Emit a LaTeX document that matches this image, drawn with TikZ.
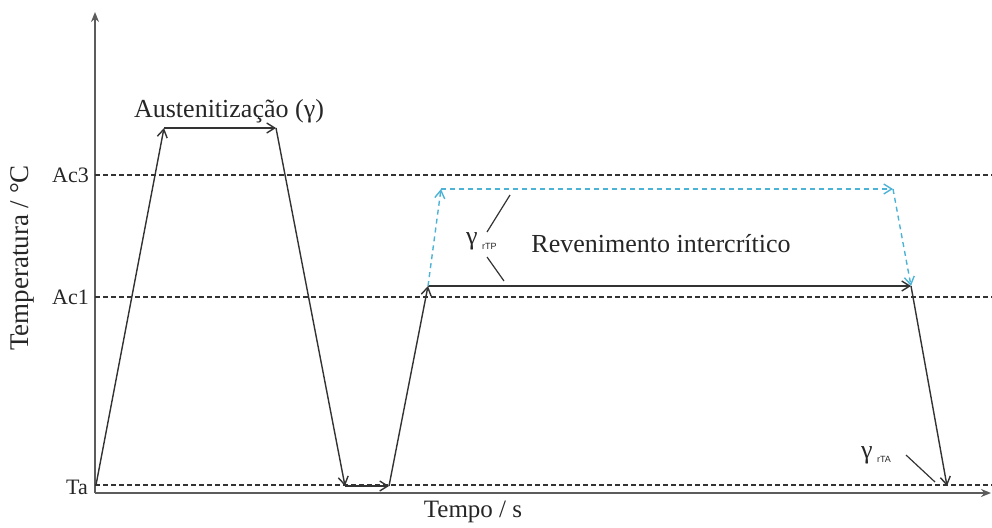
\documentclass[tikz,border=0pt]{standalone}
\usepackage{fontspec}
\setmainfont{Liberation Serif}
\newfontfamily\subsans{Liberation Sans}
\usetikzlibrary{arrows.meta}
\definecolor{linegray}{HTML}{333333}
\definecolor{temperblue}{HTML}{4DB3D6}
\begin{document}
\begin{tikzpicture}[
    x=1pt, y=-1pt,
    axis/.style={line width=2.2pt, draw=linegray!80, -{Stealth[length=10pt,width=8pt]}},
    level/.style={line width=1.3pt, draw=linegray, dash pattern=on 5pt off 3pt},
    stage/.style={line width=1.4pt, draw=linegray, -{Straight Barb[length=8pt,width=10pt]}},
    hidden/.style={line width=1.4pt, draw=temperblue, dash pattern=on 5pt off 4pt, -{Straight Barb[length=8pt,width=10pt]}},
    leader/.style={line width=1.2pt, draw=linegray},
    lbl/.style={font=\fontsize{26}{30}\selectfont, text=black!85, inner sep=0pt}
]
\useasboundingbox (0,0) rectangle (992,527);

% axes
\coordinate (origin) at (95,493);
\coordinate (ytop) at (95,12);
\coordinate (xend) at (991,493);
\draw[axis] (origin) -- (ytop);
\draw[axis] (origin) -- (xend);

% critical temperatures
\node[lbl, font=\fontsize{22}{26}\selectfont, anchor=east] (ac3) at (89,175) {Ac3};
\node[lbl, font=\fontsize{22}{26}\selectfont, anchor=east] (ac1) at (89,297) {Ac1};
\node[lbl, font=\fontsize{22}{26}\selectfont, anchor=east] (ta) at (88,487) {Ta};
\coordinate (ac3r) at (992,175);
\coordinate (ac1r) at (992,297);
\coordinate (tar) at (992,485);
\draw[level] (95,175) -- (ac3r);
\draw[level] (95,297) -- (ac1r);
\draw[level] (95,485) -- (tar);

% axis titles
\node[lbl, rotate=90, font=\fontsize{27}{30}\selectfont] (ylab) at (22,258) {Temperatura / °C};
\node[lbl, font=\fontsize{25}{30}\selectfont] (xlab) at (473,512) {Tempo / s};

% heat treatment path
\coordinate (t0) at (96,485);
\coordinate (a1) at (164,128);
\coordinate (a2) at (276,128);
\coordinate (q1) at (345,486);
\coordinate (q2) at (389,486);
\coordinate (r1) at (428,286);
\coordinate (r2) at (911,286);
\coordinate (r3) at (947,486);
\draw[stage] (t0) -- (a1);
\draw[stage] (a1) -- (a2);
\draw[stage] (a2) -- (q1);
\draw[stage] (q1) -- (q2);
\draw[stage] (q2) -- (r1);
\draw[stage] (r1) -- (r2);
\draw[stage] (r2) -- (r3);

% intercritical range (blue)
\coordinate (b1) at (441,189);
\coordinate (b2) at (893,189);
\draw[hidden] (r1) -- (b1);
\draw[hidden] (b1) -- (b2);
\draw[hidden] (b2) -- (r2);

% labels
\node[lbl] (aust) at (229,111) {Austenitização (γ)};
\node[lbl] (reven) at (661,244) {Revenimento intercrítico};
\node[lbl, anchor=west] (gtp) at (466,241) {γ\,{\subsans\fontsize{9}{10}\selectfont\raisebox{-5pt}{rTP}}};
\node[lbl, anchor=west] (gta) at (861,455) {γ\,{\subsans\fontsize{9}{10}\selectfont\raisebox{-4pt}{rTA}}};

\coordinate (tpa) at (487,232);
\coordinate (tpb) at (510,195);
\coordinate (tpc) at (487,257);
\coordinate (tpd) at (504,281);
\coordinate (taa) at (906,455);
\coordinate (tab) at (935,482);
\draw[leader] (tpa) -- (tpb);
\draw[leader] (tpc) -- (tpd);
\draw[leader] (taa) -- (tab);

\end{tikzpicture}
\end{document}
